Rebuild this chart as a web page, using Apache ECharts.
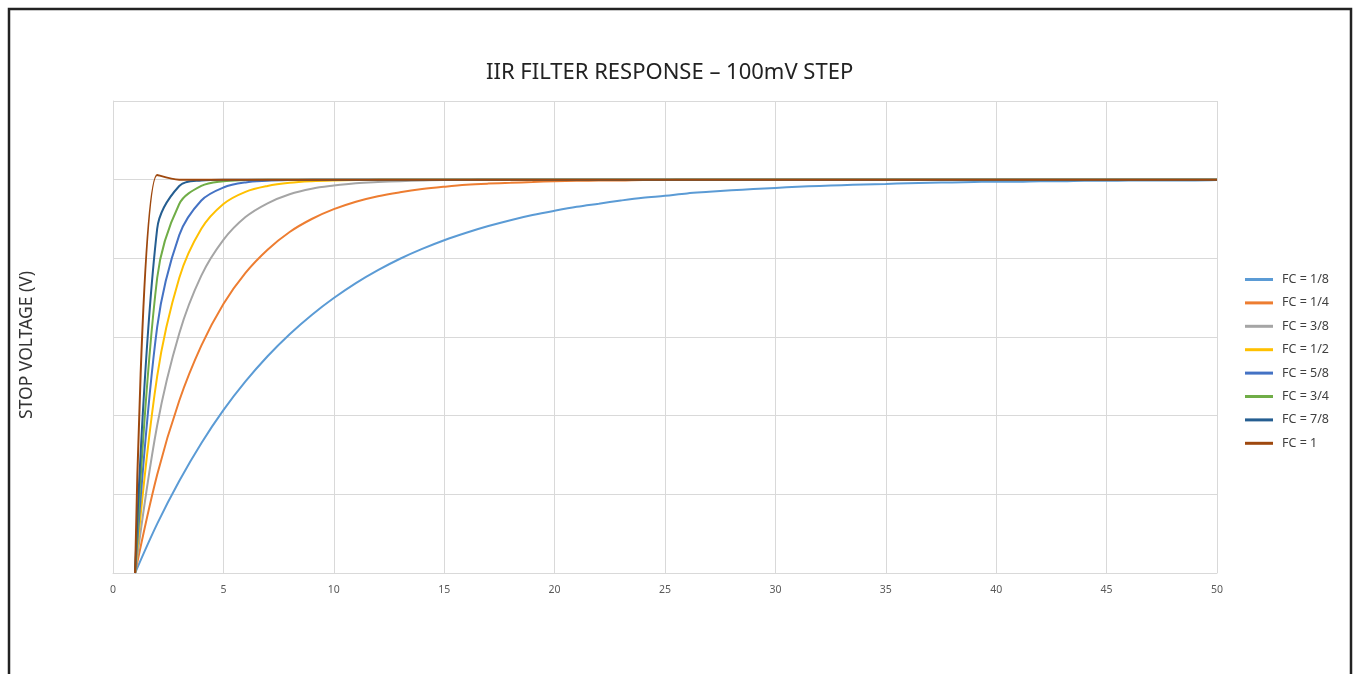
<!DOCTYPE html>
<html>
<head>
<meta charset="utf-8">
<script src="https://cdn.jsdelivr.net/npm/echarts@6/dist/echarts.min.js"></script>
<style>
html,body{margin:0;padding:0;background:#fff;}
#chart{width:1353px;height:674px;}
</style>
</head>
<body>
<div id="chart"></div>
<script>
const title = 'IIR FILTER RESPONSE \u2013 100mV STEP';
const yAxisName = 'STOP VOLTAGE (V)';
const xTicks = [0,5,10,15,20,25,30,35,40,45,50];
const sampleX = [1,2,3,4,5,6,7,8,9,10,11,12,13,14,15,16,17,18,19,20,21,22,23,24,25,26,27,28,29,30,31,32,33,34,35,36,37,38,39,40,41,42,43,44,45,46,47,48,49,50];
const seriesNames = ['FC = 1/8','FC = 1/4','FC = 3/8','FC = 1/2','FC = 5/8','FC = 3/4','FC = 7/8','FC = 1'];
const colors = ['#5B9BD5','#ED7D31','#A5A5A5','#FFC000','#4472C4','#70AD47','#255E91','#9E480E'];

const fc1_8 = [0,0.0125,0.0234,0.0330,0.0414,0.0487,0.0551,0.0607,0.0656,0.0699,0.0737,0.0770,0.0799,0.0824,0.0846,0.0865,0.0882,0.0897,0.0910,0.0921,0.0931,0.0939,0.0947,0.0954,0.0959,0.0965,0.0969,0.0973,0.0976,0.0979,0.0982,0.0984,0.0986,0.0988,0.0989,0.0991,0.0992,0.0993,0.0994,0.0995,0.0995,0.0996,0.0996,0.0997,0.0997,0.0998,0.0998,0.0998,0.0998,0.0999];
const fc1_4 = [0,0.0250,0.0438,0.0578,0.0684,0.0763,0.0822,0.0867,0.0900,0.0925,0.0944,0.0958,0.0968,0.0976,0.0982,0.0987,0.0990,0.0992,0.0994,0.0996,0.0997,0.0998,0.0998,0.0999,0.0999,0.1,0.1,0.1,0.1,0.1,0.1,0.1,0.1,0.1,0.1,0.1,0.1,0.1,0.1,0.1,0.1,0.1,0.1,0.1,0.1,0.1,0.1,0.1,0.1,0.1];
const fc3_8 = [0,0.0375,0.0609,0.0756,0.0847,0.0905,0.0940,0.0963,0.0977,0.0985,0.0991,0.0994,0.0996,0.0998,0.0999,0.0999,0.1,0.1,0.1,0.1,0.1,0.1,0.1,0.1,0.1,0.1,0.1,0.1,0.1,0.1,0.1,0.1,0.1,0.1,0.1,0.1,0.1,0.1,0.1,0.1,0.1,0.1,0.1,0.1,0.1,0.1,0.1,0.1,0.1,0.1];
const fc1_2 = [0,0.0500,0.0750,0.0875,0.0938,0.0969,0.0984,0.0992,0.0996,0.0998,0.0999,0.1,0.1,0.1,0.1,0.1,0.1,0.1,0.1,0.1,0.1,0.1,0.1,0.1,0.1,0.1,0.1,0.1,0.1,0.1,0.1,0.1,0.1,0.1,0.1,0.1,0.1,0.1,0.1,0.1,0.1,0.1,0.1,0.1,0.1,0.1,0.1,0.1,0.1,0.1];
const fc5_8 = [0,0.0625,0.0859,0.0947,0.0980,0.0993,0.0997,0.0999,0.1,0.1,0.1,0.1,0.1,0.1,0.1,0.1,0.1,0.1,0.1,0.1,0.1,0.1,0.1,0.1,0.1,0.1,0.1,0.1,0.1,0.1,0.1,0.1,0.1,0.1,0.1,0.1,0.1,0.1,0.1,0.1,0.1,0.1,0.1,0.1,0.1,0.1,0.1,0.1,0.1,0.1];
const fc3_4 = [0,0.0750,0.0938,0.0984,0.0996,0.0999,0.1,0.1,0.1,0.1,0.1,0.1,0.1,0.1,0.1,0.1,0.1,0.1,0.1,0.1,0.1,0.1,0.1,0.1,0.1,0.1,0.1,0.1,0.1,0.1,0.1,0.1,0.1,0.1,0.1,0.1,0.1,0.1,0.1,0.1,0.1,0.1,0.1,0.1,0.1,0.1,0.1,0.1,0.1,0.1];
const fc7_8 = [0,0.0875,0.0984,0.0998,0.1,0.1,0.1,0.1,0.1,0.1,0.1,0.1,0.1,0.1,0.1,0.1,0.1,0.1,0.1,0.1,0.1,0.1,0.1,0.1,0.1,0.1,0.1,0.1,0.1,0.1,0.1,0.1,0.1,0.1,0.1,0.1,0.1,0.1,0.1,0.1,0.1,0.1,0.1,0.1,0.1,0.1,0.1,0.1,0.1,0.1];
const fc1   = [0,0.1012,0.1,0.1,0.1,0.1,0.1,0.1,0.1,0.1,0.1,0.1,0.1,0.1,0.1,0.1,0.1,0.1,0.1,0.1,0.1,0.1,0.1,0.1,0.1,0.1,0.1,0.1,0.1,0.1,0.1,0.1,0.1,0.1,0.1,0.1,0.1,0.1,0.1,0.1,0.1,0.1,0.1,0.1,0.1,0.1,0.1,0.1,0.1,0.1];
const seriesValues = [fc1_8, fc1_4, fc3_8, fc1_2, fc5_8, fc3_4, fc7_8, fc1];

const chart = echarts.init(document.getElementById('chart'), null, {renderer:'canvas'});
const font = 'Noto Sans, Open Sans, sans-serif';
chart.setOption({
  animation: false,
  color: colors,
  title: {
    text: title, left: 481, top: 57,
    textStyle: {fontFamily: font, fontSize: 22, fontWeight: 'normal', color: '#222'}
  },
  graphic: [{
    type: 'rect', silent: true, z: 100,
    shape: {x: 9, y: 9, width: 1342, height: 720},
    style: {fill: 'none', stroke: '#222', lineWidth: 2.5}
  }],
  legend: {
    orient: 'vertical', left: 1245, top: 273, padding: 0,
    itemWidth: 28, itemHeight: 3, itemGap: 10.4, icon: 'rect',
    textStyle: {fontFamily: font, fontSize: 12.5, color: '#404040', padding: [0,0,0,4]},
    data: seriesNames
  },
  grid: {left: 113, right: 136, top: 101, bottom: 101, containLabel: false},
  xAxis: {
    type: 'value', min: 0, max: 50, interval: 5,
    axisLine: {show: true, lineStyle: {color: '#d9d9d9', width: 1}},
    axisTick: {show: false},
    axisLabel: {margin: 12, fontFamily: font, fontSize: 10.5, color: '#595959',
      formatter: v => xTicks.includes(v) ? String(v) : ''},
    splitLine: {show: true, lineStyle: {color: '#d9d9d9', width: 1}}
  },
  yAxis: {
    type: 'value', min: 0, max: 0.12, interval: 0.02,
    name: yAxisName, nameLocation: 'middle', nameGap: 77,
    nameTextStyle: {fontFamily: font, fontSize: 17.5, color: '#333', padding: [0, 16, 0, 0]},
    axisLine: {show: true, lineStyle: {color: '#d9d9d9', width: 1}},
    axisTick: {show: false},
    axisLabel: {show: false},
    splitLine: {show: true, lineStyle: {color: '#d9d9d9', width: 1}}
  },
  series: seriesNames.map((n, i) => ({
    name: n, type: 'line', smooth: 0.35, symbol: 'none',
    lineStyle: {width: 2, color: colors[i]},
    data: sampleX.map((x, j) => [x, seriesValues[i][j]])
  }))
});
</script>
</body>
</html>
